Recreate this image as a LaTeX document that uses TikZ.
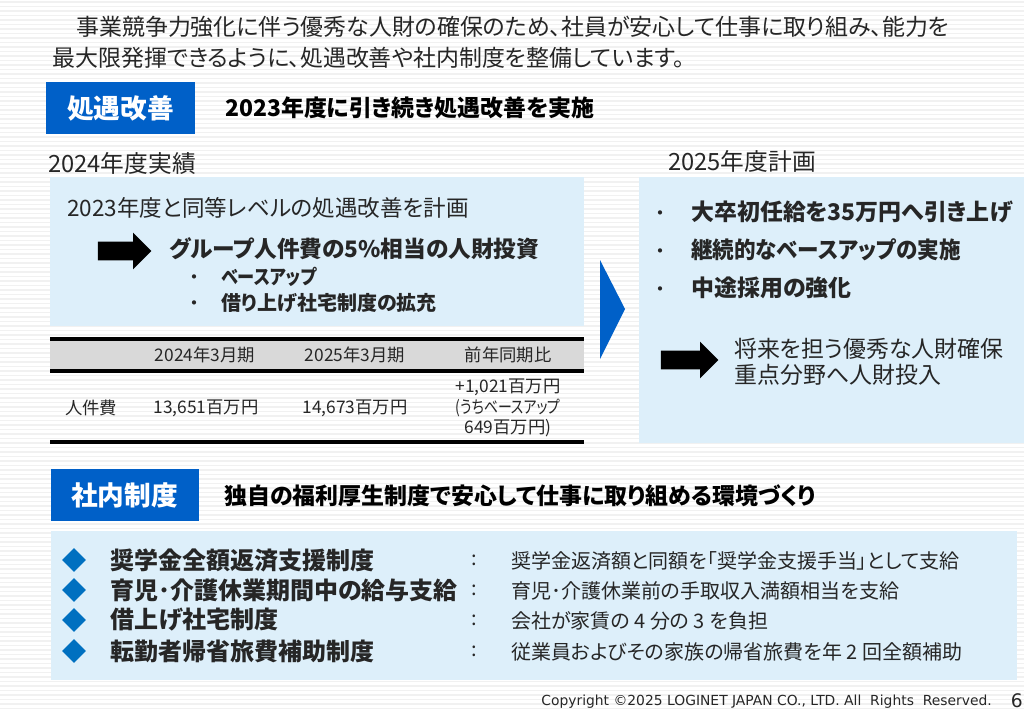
\documentclass[tikz,border=0pt]{standalone}
\usepackage{fontspec}
\setmainfont{Noto Sans CJK JP}[RawFeature=+palt]
\newfontfamily\footfont{DejaVu Sans}
\usetikzlibrary{shapes.geometric, shapes.arrows}
\definecolor{barblue}{RGB}{0,96,200}
\definecolor{paleblue}{RGB}{221,239,250}
\definecolor{rowgrey}{RGB}{217,217,217}
\definecolor{stripegrey}{RGB}{241,241,241}
\definecolor{gemblue}{RGB}{0,112,192}
\definecolor{inkgrey}{RGB}{38,38,38}

\begin{document}
\begin{tikzpicture}[x=0.75pt, y=-0.75pt]

\tikzset{txt/.style = {anchor=west, inner sep=0pt, text=inkgrey}}
\tikzset{headbox/.style = {fill=barblue, text=white, inner sep=0pt, minimum height=39pt, font=\bfseries\fontsize{20}{20}\selectfont}}
\tikzset{panel/.style = {fill=paleblue}}
\tikzset{blockarrow/.style = {shape=single arrow, fill=black, inner xsep=0pt, inner ysep=6.75pt, single arrow head extend=6.75pt, single arrow head indent=0pt, minimum height=40pt}}
\tikzset{gem/.style = {shape=diamond, fill=gemblue, inner sep=0pt, minimum width=18pt, minimum height=18pt}}
\tikzset{rule/.style = {line width=2.6pt, black}}
\tikzset{lg/.style = {txt, font=\fontsize{17.2}{17.2}\selectfont}}
\tikzset{lgb/.style = {txt, font=\bfseries\fontsize{17.2}{17.2}\selectfont}}
\tikzset{md/.style = {txt, font=\fontsize{15}{15}\selectfont}}
\tikzset{mdb/.style = {txt, font=\bfseries\fontsize{15}{15}\selectfont}}
\tikzset{sm/.style = {anchor=center, inner sep=0pt, align=center, text=inkgrey, font=\fontsize{13}{15.4}\selectfont}}

\useasboundingbox (0,0) rectangle (1024,711);
%background
\fill[white] (0,0) rectangle (1024,711);
\foreach \y in {2,6.5,...,710} {\draw[stripegrey, line width=1pt] (0,\y) -- (1024,\y);}

%lead text
\node[lg] (lead1) at (76,27) {事業競争力強化に伴う優秀な人財の確保のため、社員が安心して仕事に取り組み、能力を};
\node[lg] (lead2) at (52,58) {最大限発揮できるように、処遇改善や社内制度を整備しています。};

%first section
\node[headbox, minimum width=112pt] (head1) at (120.5,108) {処遇改善};
\node[lgb, text=black] (sub1) at (225,108) {2023年度に引き続き処遇改善を実施};
\node[lg, font=\fontsize{17.8}{17.8}\selectfont] (actual) at (48,163) {2024年度実績};
\node[lg, font=\fontsize{17.8}{17.8}\selectfont] (plan) at (668,161) {2025年度計画};

%panels
\fill[panel] (50,177) rectangle (584,326);
\fill[panel] (639,177) rectangle (1024,443);
\fill[panel] (51,531) rectangle (1017,680);

%left panel
\node[lg, font=\fontsize{16.9}{16.9}\selectfont] (keep) at (67,208) {2023年度と同等レベルの処遇改善を計画};
\node[blockarrow] (arrow1) at (120,251) {};
\node[lgb, font=\bfseries\fontsize{17}{17}\selectfont] (invest) at (169,249) {グループ人件費の5\%相当の人財投資};
\node[md] (dot1) at (189,280) {・};
\node[md] (dot2) at (189,306) {・};
\node[mdb] (base) at (221,277) {\scalebox{.86}[1]{ベースアップ}};
\node[mdb] (rent) at (221,303) {借り上げ社宅制度の拡充};

%table
\fill[rowgrey] (50,339) rectangle (584,371);
\coordinate (r1a) at (50,339);
\coordinate (r1b) at (584,339);
\coordinate (r2a) at (50,371);
\coordinate (r2b) at (584,371);
\coordinate (r3a) at (50,442);
\coordinate (r3b) at (584,442);
\draw[rule] (r1a) -- (r1b);
\draw[rule] (r2a) -- (r2b);
\draw[rule] (r3a) -- (r3b);
\node[sm] (col1) at (205,355) {2024年3月期};
\node[sm] (col2) at (355,355) {2025年3月期};
\node[sm] (col3) at (508,355) {前年同期比};
\node[sm] (row) at (91,408) {人件費};
\node[sm] (val1) at (206,408) {13,651百万円};
\node[sm] (val2) at (355,408) {14,673百万円};
\node[sm] (val3) at (508,408) {+1,021百万円\\\scalebox{.8}[1]{(うちベースアップ}\\649百万円)};

%chevron
\fill[barblue] (600,260) -- (625,309) -- (600,359) -- cycle;

%right panel
\foreach \y/\t in {212/大卒初任給を35万円へ引き上げ, 250/\scalebox{.94}[1]{継続的なベースアップの実施}, 288/中途採用の強化} {
  \node[md] at (655,\y+4) {・};
  \node[lgb] at (691,\y) {\t};
}
\node[blockarrow, minimum height=43pt] (arrow2) at (685,360) {};
\node[lg] (future) at (734,349) {将来を担う優秀な人財確保};
\node[lg] (focus) at (734,375) {重点分野へ人財投入};

%second section
\node[headbox, minimum width=111pt] (head2) at (124.5,495) {社内制度};
\node[lgb, text=black] (sub2) at (224,496) {独自の福利厚生制度で安心して仕事に取り組める環境づくり};

%system list
\foreach \n/\y/\a/\b in {1/560/奨学金全額返済支援制度/奨学金返済額と同額を「奨学金支援手当」として支給,
  2/590/育児･介護休業期間中の給与支給/育児･介護休業前の手取収入満額相当を支給,
  3/620/借上げ社宅制度/会社が家賃の 4 分の 3 を負担,
  4/651/転勤者帰省旅費補助制度/従業員およびその家族の帰省旅費を年 2 回全額補助} {
  \node[gem] (gem\n) at (74,\y) {};
  \node[lgb, font=\bfseries\fontsize{18}{18}\selectfont] (name\n) at (110,\y) {\a};
  \node[md] (colon\n) at (471,\y) {:};
  \node[md] (note\n) at (511,\y+1) {\b};
}

%footer
\node[anchor=east, inner sep=0pt, text=inkgrey, font=\footfont\fontsize{10.4}{10.4}\selectfont] (copy) at (992,702) {Copyright ©2025 LOGINET JAPAN CO., LTD. All\ \ Rights\ \ Reserved.};
\node[anchor=east, inner sep=0pt, text=inkgrey, font=\footfont\fontsize{14}{14}\selectfont] (page) at (1023,701) {6};

\end{tikzpicture}
\end{document}
